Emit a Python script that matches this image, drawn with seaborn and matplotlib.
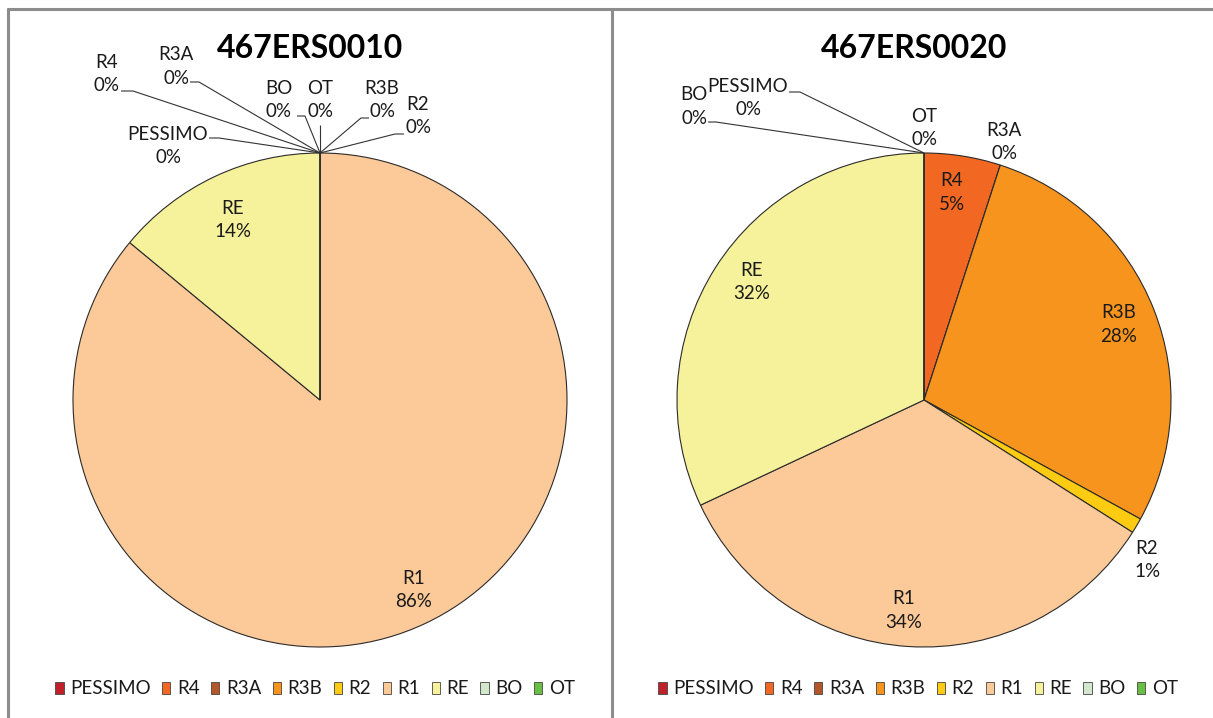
import matplotlib
matplotlib.use("Agg")
import matplotlib.pyplot as plt
from matplotlib.patches import Patch
from matplotlib.lines import Line2D
import numpy as np
import seaborn as sns

sns.set_theme(style="white")
plt.rcParams["font.family"] = ["Lato", "DejaVu Sans"]

# ---- data -------------------------------------------------------------
categories = ["PESSIMO", "R4", "R3A", "R3B", "R2", "R1", "RE", "BO", "OT"]
station_names = ["467ERS0010", "467ERS0020"]
values_0010 = [0, 0, 0, 0, 0, 86, 14, 0, 0]
values_0020 = [0, 5, 0, 28, 1, 34, 32, 0, 0]
palette = ["#C0202A", "#F26722", "#B5562A", "#F7941D", "#FCCB12",
           "#FCC998", "#F6F29B", "#D2E7CC", "#6BBE45"]

W, H = 1213, 718
fig = plt.figure(figsize=(W / 100, H / 100), dpi=100)
ax = fig.add_axes([0, 0, 1, 1])

def Y(py):
    return H - py

R = 247
# label anchors: (x, y of the name line), and an optional leader given as
# (x next to the text, x of the knee, y) before it runs to the rim
panels = [
    dict(values=values_0010, center=(320, 400), title_xy=(310, 48),
         labels={
             "PESSIMO": ((168, 134), (209, 219, 138)),
             "R4": ((107, 62), (121, 133, 91)),
             "R3A": ((176, 55), (190, 199, 82)),
             "R3B": ((382, 88), (369, 361, 118)),
             "R2": ((418, 104), (404, 395, 134)),
             "R1": ((414, 578), None),
             "RE": ((233, 208), None),
             "BO": ((279, 88), (297, 305, 116)),
             "OT": ((320, 88), (320, 320, 125)),
         }),
    dict(values=values_0020, center=(924, 400), title_xy=(914, 48),
         labels={
             "PESSIMO": ((748, 86), (789, 800, 92)),
             "R4": ((952, 181), None),
             "R3A": ((1004, 130), None),
             "R3B": ((1119, 313), None),
             "R2": ((1147, 548), None),
             "R1": ((904, 599), None),
             "RE": ((752, 270), None),
             "BO": ((694, 95), (708, 716, 122)),
             "OT": ((924, 116), None),
         }),
]

label_fs = 13.5
line_gap = 23.5
for name, p in zip(station_names, panels):
    vals = np.array(p["values"], dtype=float)
    cx, cy = p["center"]
    ax.pie(vals, colors=palette, startangle=90, counterclock=False,
           center=(cx, Y(cy)), radius=R,
           wedgeprops=dict(edgecolor="#2b2b2b", linewidth=0.8))
    total = vals.sum()
    cum = np.concatenate([[0], np.cumsum(vals)])
    for i, cat in enumerate(categories):
        (tx, ty), lead = p["labels"][cat]
        pct = 100 * vals[i] / total
        ax.text(tx, Y(ty), cat, ha="center", va="center",
                fontsize=label_fs, color="#1a1a1a")
        ax.text(tx, Y(ty + line_gap), f"{pct:.0f}%", ha="center", va="center",
                fontsize=label_fs, color="#1a1a1a")
        if lead is not None:
            # leader runs to the rim point where this slice sits
            mid = (cum[i] + cum[i + 1]) / 2
            ang = np.deg2rad(90 - 360 * mid / total)
            ex, ey = cx + R * np.cos(ang), Y(cy) + R * np.sin(ang)
            x0, x1, ly = lead
            ax.plot([x0, x1, ex], [Y(ly), Y(ly), ey], color="#333333",
                    lw=0.8, solid_capstyle="butt", solid_joinstyle="miter")
    tx, ty = p["title_xy"]
    ax.text(tx, Y(ty), name, ha="center", va="center", fontsize=23,
            fontweight="bold", color="black")

ax.set_xlim(0, W)
ax.set_ylim(0, H)
ax.set_aspect("auto")
ax.axis("off")

# panel frame
frame_kw = dict(color="#8c8c8c", lw=2.2, transform=fig.transFigure)
fig.add_artist(Line2D([8 / W, 1], [1 - 8.5 / H] * 2, **frame_kw))
fig.add_artist(Line2D([8 / W] * 2, [0, 1 - 8.5 / H], **frame_kw))
fig.add_artist(Line2D([612 / W] * 2, [0, 1 - 8.5 / H], **frame_kw))

handles = [Patch(facecolor=c, edgecolor="#444444", linewidth=0.6) for c in palette]
for lx in (315, 918):
    fig.legend(handles, categories, loc="center", ncol=9,
               bbox_to_anchor=(lx / W, 1 - 689 / H), frameon=False,
               fontsize=label_fs, handlelength=0.45, handleheight=0.62,
               handletextpad=0.35, columnspacing=0.6, borderpad=0,
               labelcolor="#1a1a1a")

fig.savefig("out.png", dpi=100)
